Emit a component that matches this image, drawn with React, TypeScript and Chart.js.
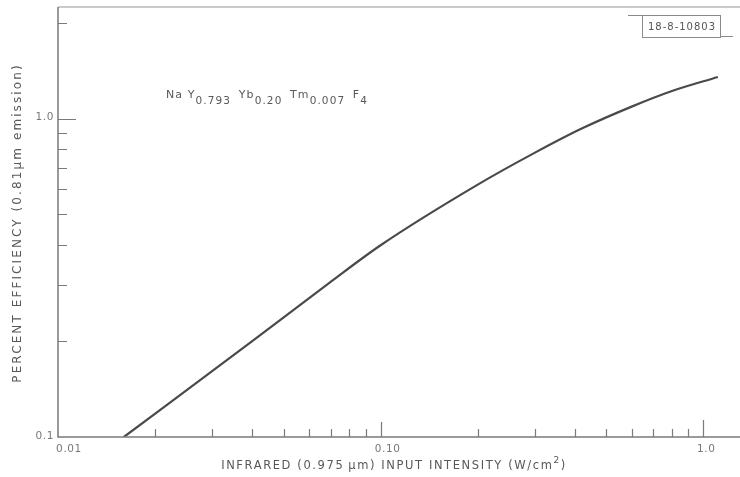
import React, { useEffect, useRef } from "react";
import { Chart, registerables } from "chart.js";

Chart.register(...registerables);

// Upconversion efficiency vs. infrared pump intensity
const intensity = [0.016, 0.04, 0.07, 0.1, 0.2, 0.3, 0.42, 0.6, 0.8, 1.11];
const efficiency = [0.1, 0.2, 0.307, 0.4, 0.62, 0.78, 0.93, 1.09, 1.22, 1.35];

const xMajorTicks = [0.01, 0.1, 1.0];
const xTickLabels = ["0.01", "0.10", "1.0"];
const xMinorTicks = [0.02, 0.03, 0.04, 0.05, 0.06, 0.07, 0.08, 0.09, 0.2, 0.3, 0.4, 0.5, 0.6, 0.7, 0.8, 0.9];

const yMajorTicks = [0.1, 1.0];
const yTickLabels = ["0.1", "1.0"];
const yMinorTicks = [0.2, 0.3, 0.4, 0.5, 0.6, 0.7, 0.8, 0.9, 2.0];

const xTitle = "INFRARED (0.975\u2009\u03bcm) INPUT INTENSITY (W/cm";
const yTitle = "PERCENT EFFICIENCY (0.81\u03bcm emission)";
const formulaParts: [string, boolean][] = [
  ["Na Y", false],
  ["0.793", true],
  [" Yb", false],
  ["0.20", true],
  [" Tm", false],
  ["0.007", true],
  [" F", false],
  ["4", true],
];
const figureId = "18-8-10803";

const FONT = "'DejaVu Sans', 'Liberation Sans', sans-serif";

const axesPlugin = {
  id: "plateAxes",
  afterDraw(chart: any) {
    const ctx: CanvasRenderingContext2D = chart.ctx;
    const { left, right, top, bottom } = chart.chartArea;
    const xs = chart.scales.x;
    const ys = chart.scales.y;
    ctx.save();

    // frame
    ctx.lineCap = "butt";
    ctx.strokeStyle = "#b8b8b8";
    ctx.lineWidth = 1.5;
    ctx.beginPath();
    ctx.moveTo(left, top);
    ctx.lineTo(right, top);
    ctx.stroke();

    ctx.strokeStyle = "#7a7a7a";
    ctx.lineWidth = 1.5;
    ctx.beginPath();
    ctx.moveTo(left, top);
    ctx.lineTo(left, bottom);
    ctx.lineTo(right, bottom);
    ctx.stroke();

    // inward ticks
    ctx.lineWidth = 1.2;
    ctx.strokeStyle = "#7a7a7a";
    ctx.beginPath();
    for (const v of xMinorTicks) {
      const px = Math.round(xs.getPixelForValue(v)) + 0.5;
      ctx.moveTo(px, bottom);
      ctx.lineTo(px, bottom - 8);
    }
    xMajorTicks.forEach((v, i) => {
      if (v === xs.min) return;
      const px = Math.round(xs.getPixelForValue(v)) + 0.5;
      ctx.moveTo(px, bottom);
      ctx.lineTo(px, bottom - (i === 1 ? 15 : 17));
    });
    for (const v of yMinorTicks) {
      const py = Math.round(ys.getPixelForValue(v)) + 0.5;
      ctx.moveTo(left, py);
      ctx.lineTo(left + 9, py);
    }
    for (const v of yMajorTicks) {
      if (v === ys.min) continue;
      const py = Math.round(ys.getPixelForValue(v)) + 0.5;
      ctx.moveTo(left, py);
      ctx.lineTo(left + 18, py);
    }
    ctx.stroke();

    // tick labels
    ctx.fillStyle = "#777";
    ctx.font = `10.5px ${FONT}`;
    (ctx as any).letterSpacing = "0.6px";
    ctx.textBaseline = "middle";
    ctx.textAlign = "center";
    xMajorTicks.forEach((v, i) => {
      const px = xs.getPixelForValue(v);
      const off = i === 0 ? 11 : i === 1 ? 7 : 3;
      ctx.fillText(xTickLabels[i], px + off, bottom + 12);
    });
    ctx.textAlign = "right";
    yMajorTicks.forEach((v, i) => {
      const py = ys.getPixelForValue(v);
      ctx.fillText(yTickLabels[i], left - 4, py - 1);
    });

    // x-axis title with superscript
    ctx.fillStyle = "#585858";
    (ctx as any).letterSpacing = "1.6px";
    ctx.font = `11.5px ${FONT}`;
    const mainW = ctx.measureText(xTitle).width;
    ctx.font = `9px ${FONT}`;
    const supW = ctx.measureText("2").width;
    ctx.font = `11.5px ${FONT}`;
    const closeW = ctx.measureText(")").width;
    const total = mainW + supW + closeW;
    const x0 = 394 - total / 2;
    ctx.textAlign = "left";
    ctx.fillText(xTitle, x0, 466);
    ctx.font = `9px ${FONT}`;
    ctx.fillText("2", x0 + mainW, 461);
    ctx.font = `11.5px ${FONT}`;
    ctx.fillText(")", x0 + mainW + supW, 466);

    // y-axis title
    ctx.save();
    ctx.translate(18, 223);
    ctx.rotate(-Math.PI / 2);
    ctx.textAlign = "center";
    ctx.font = `12px ${FONT}`;
    (ctx as any).letterSpacing = "2.1px";
    ctx.fillText(yTitle, 0, 0);
    ctx.restore();

    // composition label
    (ctx as any).letterSpacing = "1.1px";
    ctx.textAlign = "left";
    let fx = 166;
    for (const [t, sub] of formulaParts) {
      ctx.font = sub ? `10.5px ${FONT}` : `11px ${FONT}`;
      ctx.fillText(t, fx, sub ? 101 : 95);
      fx += ctx.measureText(t).width + (sub ? 3 : 0);
    }

    // figure number box
    ctx.strokeStyle = "#8a8a8a";
    ctx.lineWidth = 1;
    ctx.strokeRect(642.5, 15.5, 78, 22);
    ctx.beginPath();
    ctx.moveTo(628, 15.5);
    ctx.lineTo(642, 15.5);
    ctx.moveTo(721, 36.5);
    ctx.lineTo(733, 36.5);
    ctx.stroke();
    ctx.font = `10px ${FONT}`;
    (ctx as any).letterSpacing = "1px";
    ctx.textAlign = "center";
    ctx.fillStyle = "#555";
    ctx.fillText(figureId, 682, 27);

    ctx.restore();
  },
};

export default function App() {
  const ref = useRef<HTMLCanvasElement>(null);

  useEffect(() => {
    document.body.style.margin = "0";
    const canvas = ref.current!;
    const chart = new Chart(canvas, {
      type: "line",
      data: {
        datasets: [
          {
            data: intensity.map((x, i) => ({ x, y: efficiency[i] })),
            borderColor: "#4a4a4a",
            borderWidth: 2.2,
            pointRadius: 0,
            cubicInterpolationMode: "monotone",
            fill: false,
          },
        ],
      },
      options: {
        animation: false,
        responsive: false,
        devicePixelRatio: 1,
        layout: { padding: { left: 58, top: 7, right: 0, bottom: 40 } },
        plugins: { legend: { display: false }, tooltip: { enabled: false } },
        scales: {
          x: { type: "logarithmic", min: 0.01, max: 1.3, display: false },
          y: { type: "logarithmic", min: 0.1, max: 2.24, display: false },
        },
      },
      plugins: [axesPlugin],
    });
    return () => chart.destroy();
  }, []);

  return (
    <div style={{ width: 740, height: 477, background: "#fff" }}>
      <canvas ref={ref} width={740} height={477} />
    </div>
  );
}
